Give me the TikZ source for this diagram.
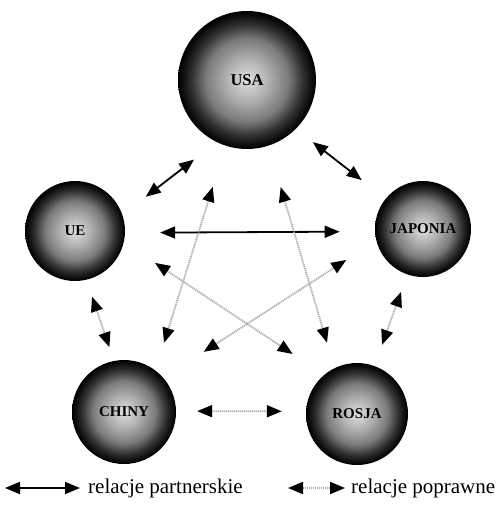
\documentclass[tikz,border=0pt]{standalone}
\usepackage{fontspec}
\setmainfont{Liberation Serif}
\usetikzlibrary{arrows.meta}
\pgfdeclareradialshading{sphere}{\pgfpoint{0bp}{0bp}}{color(0bp)=(black!12); color(8bp)=(black!32); color(15bp)=(black!52); color(20bp)=(black!80); color(23bp)=(black!93); color(25bp)=(black); color(50bp)=(black)}
\tikzset{
  ball/.style={circle, shading=sphere, inner sep=0pt, font=\bfseries\fontsize{15}{15}\selectfont},
  tipA/.style={>={Triangle[length=15pt,width=12pt,color=black]}},
  partner/.style={<->, tipA, line width=1.8pt, black},
  poprawne/.style={<->, tipA, line width=1.8pt, gray!65, dash pattern=on 1.2pt off 0.8pt},
  legtext/.style={anchor=west, inner sep=0pt, font=\fontsize{21}{21}\selectfont}
}
\begin{document}
\begin{tikzpicture}[x=1pt,y=-1pt]
\useasboundingbox (0,0) rectangle (497,508);
\node[ball, minimum size=138pt, font=\bfseries\fontsize{16.5}{16.5}\selectfont] (usa) at (247,80) {USA};
\node[ball, minimum size=100pt] (ue) at (75,231) {UE};
\node[ball, minimum size=96pt] (jap) at (423,229) {JAPONIA};
\node[ball, minimum size=104pt] (chiny) at (124,412) {CHINY};
\node[ball, minimum size=102pt] (rosja) at (357,414) {ROSJA};
% partner relations
\draw[partner, shorten <=28.5pt, shorten >=29.4pt] (usa.244.5) -- (ue.19);
\draw[partner, shorten <=21.5pt, shorten >=30.2pt] (usa.-45.9) -- (jap.141.2);
\draw[partner, shorten <=35pt, shorten >=35.2pt] (ue.-2) -- (jap.183.4);
% correct relations
\draw[poprawne, shorten <=43pt, shorten >=28.8pt] (usa.252.4) -- (chiny.53.6);
\draw[poprawne, shorten <=43pt, shorten >=26.4pt] (usa.-72.9) -- (rosja.116.9);
\draw[poprawne, shorten <=37.3pt, shorten >=37.7pt] (ue.-13.2) -- (rosja.130);
\draw[poprawne, shorten <=35.7pt, shorten >=47.9pt] (jap.194.5) -- (chiny.41.3);
\draw[poprawne, shorten <=17.7pt, shorten >=14.3pt] (ue.-77.2) -- (chiny.101.3);
\draw[poprawne, shorten <=18.4pt, shorten >=22.4pt] (jap.251.6) -- (rosja.70.1);
\draw[poprawne, shorten <=21pt, shorten >=24.1pt] (chiny.1.6) -- (rosja.177);
% legend
\coordinate (l1a) at (5,488);
\coordinate (l1b) at (80,488);
\node[legtext] (t1) at (88,488) {relacje partnerskie};
\coordinate (l2a) at (288,488);
\coordinate (l2b) at (345,488);
\node[legtext] (t2) at (351,488) {relacje poprawne};
\draw[partner] (l1a) -- (l1b);
\draw[poprawne] (l2a) -- (l2b);
\end{tikzpicture}
\end{document}
